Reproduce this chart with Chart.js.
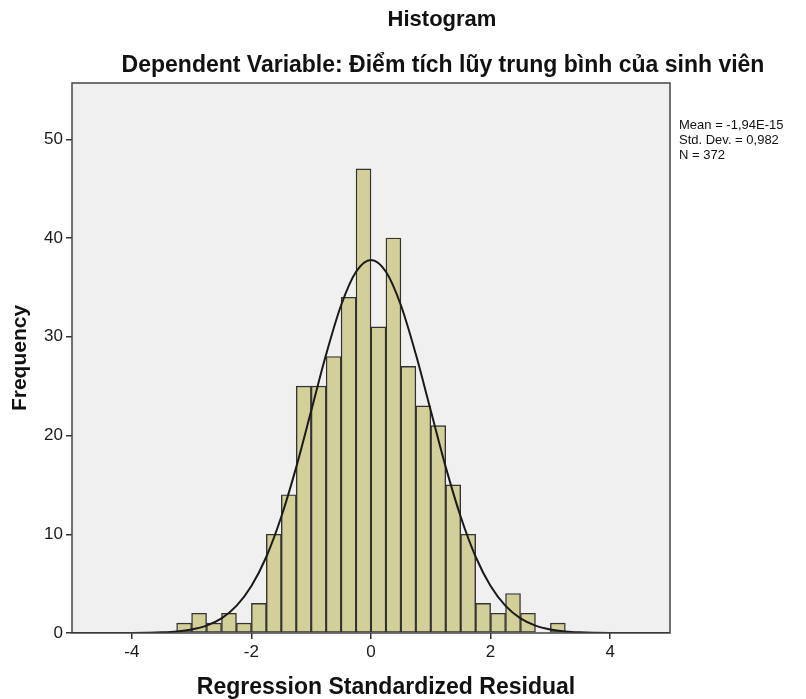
<!DOCTYPE html>
<html>
<head>
<meta charset="utf-8">
<title>Histogram</title>
<script src="https://cdn.jsdelivr.net/npm/chart.js@4.4.1/dist/chart.umd.min.js"></script>
<style>
  html, body { margin: 0; padding: 0; background: #fff; }
  #chart { display: block; }
</style>
</head>
<body>
<canvas id="chart" width="806" height="699"></canvas>
<script>
// histogram bins (width 0.25), centres and counts
var binCenters = [-3.125, -2.875, -2.625, -2.375, -2.125, -1.875, -1.625, -1.375, -1.125, -0.875, -0.625, -0.375, -0.125,
                  0.125, 0.375, 0.625, 0.875, 1.125, 1.375, 1.625, 1.875, 2.125, 2.375, 2.625, 2.875, 3.125];
var binCounts = [1, 2, 1, 2, 1, 3, 10, 14, 25, 25, 28, 34, 47,
                 31, 40, 27, 23, 21, 15, 10, 3, 2, 4, 2, 0, 1];

// normal curve
var curveX = [-5, -4.75, -4.5, -4.25, -4, -3.75, -3.5, -3.25, -3, -2.75, -2.5, -2.25, -2, -1.75, -1.5, -1.25, -1, -0.75, -0.5, -0.25,
              0, 0.25, 0.5, 0.75, 1, 1.25, 1.5, 1.75, 2, 2.25, 2.5, 2.75, 3, 3.25, 3.5, 3.75, 4, 4.25, 4.5, 4.75, 5];
var curveY = [0, 0, 0, 0, 0.01, 0.03, 0.07, 0.16, 0.36, 0.75, 1.48, 2.74, 4.75, 7.72, 11.77, 16.8, 22.5, 28.22, 33.19, 36.58,
              37.78, 36.58, 33.19, 28.22, 22.5, 16.8, 11.77, 7.72, 4.75, 2.74, 1.48, 0.75, 0.36, 0.16, 0.07, 0.03, 0.01, 0, 0, 0, 0];

var xTicks = [-4, -2, 0, 2, 4];
var yTicks = [0, 10, 20, 30, 40, 50];

var statsLines = ['Mean = -1,94E-15', 'Std. Dev. = 0,982', 'N = 372'];
var titleText = 'Histogram';
var subtitleText = 'Dependent Variable: Điểm tích lũy trung bình của sinh viên';
var xTitle = 'Regression Standardized Residual';
var yTitle = 'Frequency';

var FONT = '"Liberation Sans", Arial, sans-serif';

var decor = {
    id: 'decor',
    beforeDraw: function (chart) {
        var ctx = chart.ctx, a = chart.chartArea;
        ctx.save();
        ctx.fillStyle = '#ffffff';
        ctx.fillRect(0, 0, chart.width, chart.height);
        ctx.fillStyle = '#f0f0f0';
        ctx.fillRect(a.left, a.top, a.right - a.left, a.bottom - a.top);
        ctx.restore();
    },
    afterDatasetsDraw: function (chart) {
        var ctx = chart.ctx, a = chart.chartArea;
        ctx.save();
        ctx.strokeStyle = '#444';
        ctx.lineWidth = 1.5;
        ctx.strokeRect(a.left, a.top, a.right - a.left, a.bottom - a.top);
        ctx.restore();
    },
    afterDraw: function (chart) {
        var ctx = chart.ctx;
        ctx.save();
        ctx.fillStyle = '#111';
        ctx.textAlign = 'center';
        ctx.textBaseline = 'middle';
        ctx.font = 'bold 22px ' + FONT;
        ctx.fillText(titleText, 442, 20);
        ctx.font = 'bold 23px ' + FONT;
        ctx.fillText(subtitleText, 443, 66);
        ctx.fillText(xTitle, 386, 688);
        ctx.font = 'bold 21px ' + FONT;
        ctx.save();
        ctx.translate(20, 358);
        ctx.rotate(-Math.PI / 2);
        ctx.fillText(yTitle, 0, 0);
        ctx.restore();
        ctx.textAlign = 'left';
        ctx.font = '13px ' + FONT;
        statsLines.forEach(function (t, i) {
            ctx.fillText(t, 679, 125 + i * 15);
        });
        ctx.restore();
    }
};

new Chart(document.getElementById('chart'), {
    type: 'bar',
    data: {
        datasets: [{
            type: 'line',
            data: curveX.map(function (x, i) { return { x: x, y: curveY[i] }; }),
            borderColor: '#1a1a1a',
            borderWidth: 2,
            pointRadius: 0,
            fill: false,
            cubicInterpolationMode: 'monotone',
            order: 0
        }, {
            type: 'bar',
            data: binCenters.map(function (x, i) { return { x: x, y: binCounts[i] }; }),
            backgroundColor: '#d3cf98',
            borderColor: '#333',
            borderWidth: 1.4,
            borderSkipped: false,
            barPercentage: 1,
            categoryPercentage: 1,
            grouped: false,
            order: 1
        }]
    },
    options: {
        responsive: false,
        animation: false,
        layout: { padding: { left: 0, right: 136, top: 83, bottom: 0 } },
        plugins: {
            legend: { display: false },
            tooltip: { enabled: false }
        },
        scales: {
            x: {
                type: 'linear',
                min: -5,
                max: 5,
                offset: false,
                afterBuildTicks: function (scale) {
                    scale.ticks = xTicks.map(function (v) { return { value: v }; });
                },
                afterFit: function (scale) { scale.height = 66; },
                border: { display: false },
                grid: { display: true, offset: false, drawOnChartArea: false, drawTicks: true, tickLength: 6, color: '#333', lineWidth: 1.5 },
                ticks: { color: '#1a1a1a', font: { family: FONT, size: 17 }, padding: 3, maxRotation: 0 }
            },
            y: {
                min: 0,
                max: 55.7,
                afterBuildTicks: function (scale) {
                    scale.ticks = yTicks.map(function (v) { return { value: v }; });
                },
                afterFit: function (scale) { scale.width = 72; },
                border: { display: false },
                grid: { display: true, drawOnChartArea: false, drawTicks: true, tickLength: 6, color: '#333', lineWidth: 1.5 },
                ticks: { color: '#1a1a1a', font: { family: FONT, size: 17 }, padding: 3 }
            }
        }
    },
    plugins: [decor]
});
</script>
</body>
</html>
